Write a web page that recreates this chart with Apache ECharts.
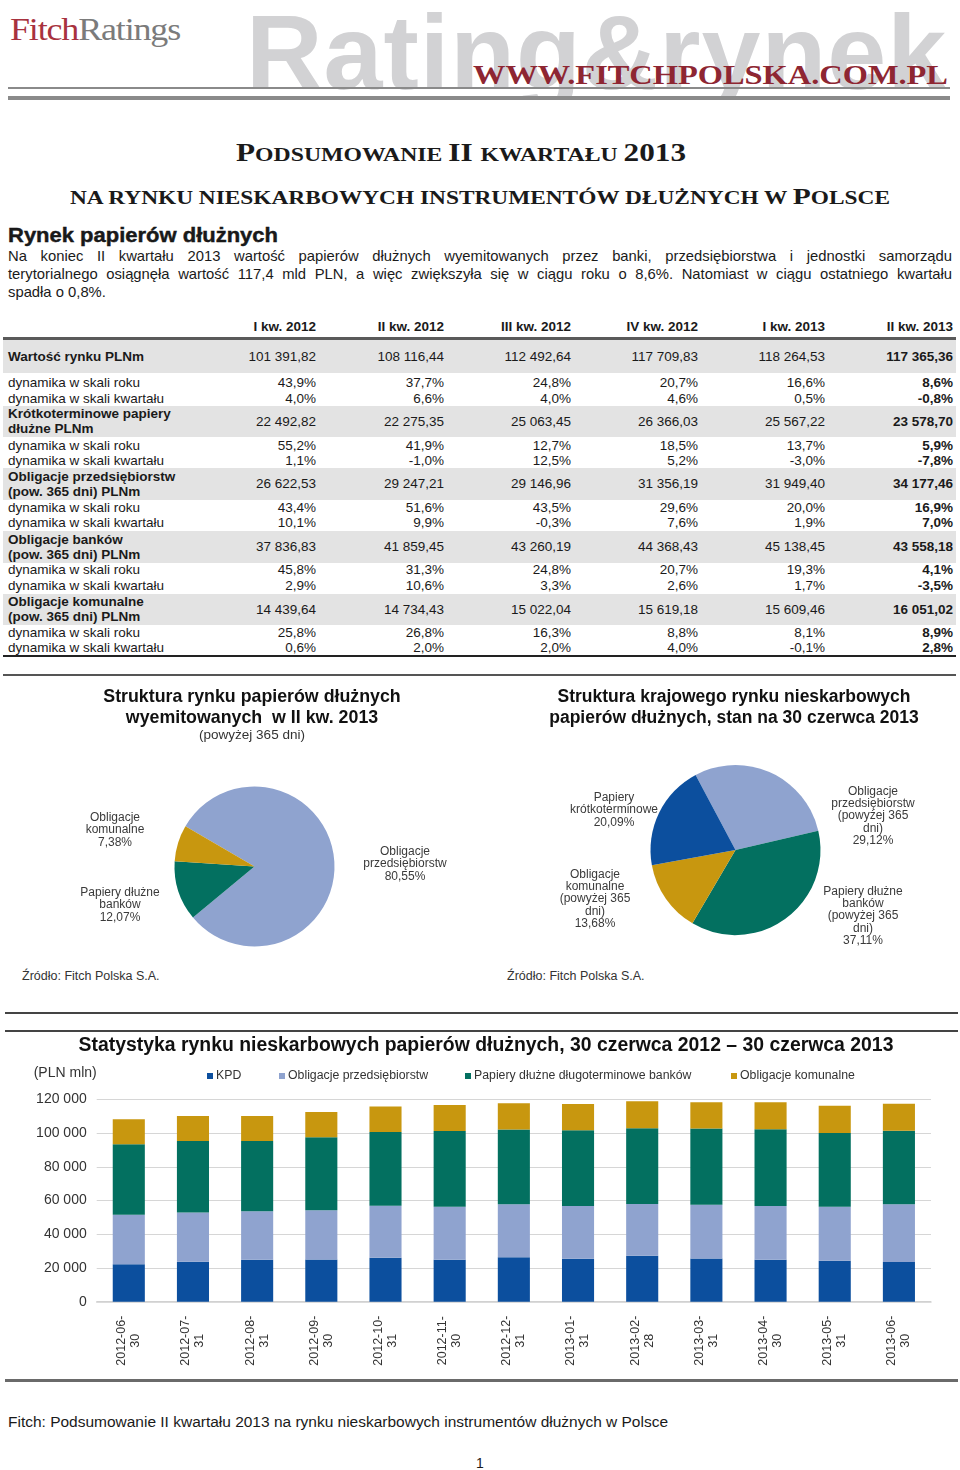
<!DOCTYPE html>
<html><head><meta charset="utf-8">
<script src="https://cdn.jsdelivr.net/npm/echarts@6/dist/echarts.min.js"></script>
<style>
html,body{margin:0;padding:0;background:#fff;}
body{width:960px;height:1470px;position:relative;overflow:hidden;font-family:'Liberation Sans',Arial,sans-serif;color:#1a1a1a;}
.abs{position:absolute;white-space:nowrap;}
.hl{position:absolute;}
.jl{position:absolute;left:8px;width:944px;white-space:nowrap;text-align:justify;text-align-last:justify;font:14.8px 'Liberation Sans',Arial;line-height:18px;}
</style></head>
<body>
<div id="page"></div>
<div id="pies" style="position:absolute;left:0;top:680px;width:960px;height:320px;"></div>
<div id="bars" style="position:absolute;left:0;top:1030px;width:960px;height:350px;"></div>
<script>
// ---------------- DATA ----------------
const colHeads = ['I kw. 2012','II kw. 2012','III kw. 2012','IV kw. 2012','I kw. 2013','II kw. 2013'];
const wartosc = [101391.82, 108116.44, 112492.64, 117709.83, 118264.53, 117365.36];
const wartoscRok = [43.9, 37.7, 24.8, 20.7, 16.6, 8.6];
const wartoscKw = [4.0, 6.6, 4.0, 4.6, 0.5, -0.8];
const krotko = [22492.82, 22275.35, 25063.45, 26366.03, 25567.22, 23578.70];
const krotkoRok = [55.2, 41.9, 12.7, 18.5, 13.7, 5.9];
const krotkoKw = [1.1, -1.0, 12.5, 5.2, -3.0, -7.8];
const przeds = [26622.53, 29247.21, 29146.96, 31356.19, 31949.40, 34177.46];
const przedsRok = [43.4, 51.6, 43.5, 29.6, 20.0, 16.9];
const przedsKw = [10.1, 9.9, -0.3, 7.6, 1.9, 7.0];
const banki = [37836.83, 41859.45, 43260.19, 44368.43, 45138.45, 43558.18];
const bankiRok = [45.8, 31.3, 24.8, 20.7, 19.3, 4.1];
const bankiKw = [2.9, 10.6, 3.3, 2.6, 1.7, -3.5];
const komunalne = [14439.64, 14734.43, 15022.04, 15619.18, 15609.46, 16051.02];
const komunalneRok = [25.8, 26.8, 16.3, 8.8, 8.1, 8.9];
const komunalneKw = [0.6, 2.0, 2.0, 4.0, -0.1, 2.8];

const pie1Names = ['Obligacje\nprzedsiębiorstw', 'Papiery dłużne\nbanków', 'Obligacje\nkomunalne'];
const pie1Values = [80.55, 12.07, 7.38];
const pie2Names = ['Obligacje\nprzedsiębiorstw\n(powyżej 365\ndni)', 'Papiery dłużne\nbanków\n(powyżej 365\ndni)', 'Obligacje\nkomunalne\n(powyżej 365\ndni)', 'Papiery\nkrótkoterminowe'];
const pie2Values = [29.12, 37.11, 13.68, 20.09];

const barDates = ['2012-06-30','2012-07-31','2012-08-31','2012-09-30','2012-10-31','2012-11-30','2012-12-31','2013-01-31','2013-02-28','2013-03-31','2013-04-30','2013-05-31','2013-06-30'];
const barKPD = [22275, 23700, 24900, 25063, 26100, 24900, 26366, 25500, 27280, 25567, 24900, 24300, 23579];
const barPrzeds = [29247, 29250, 28670, 29147, 30840, 31430, 31356, 31240, 30640, 31949, 31830, 32030, 34177];
const barBanki = [41859, 42300, 41710, 43260, 43690, 44880, 44368, 44880, 44880, 45138, 45470, 43690, 43558];
const barKomunalne = [14734, 14830, 14830, 15022, 15030, 15420, 15619, 15620, 16010, 15609, 16010, 16210, 16051];
const barNames = ['KPD', 'Obligacje przedsiębiorstw', 'Papiery dłużne długoterminowe banków', 'Obligacje komunalne'];
const yTicks = [0, 20000, 40000, 60000, 80000, 100000, 120000];

const paraLines = [
  'Na koniec II kwartału 2013 wartość papierów dłużnych wyemitowanych przez banki, przedsiębiorstwa i jednostki samorządu',
  'terytorialnego osiągnęła wartość 117,4 mld PLN, a więc zwiększyła się w ciągu roku o 8,6%. Natomiast w ciągu ostatniego kwartału',
  'spadła o 0,8%.'
];

// ---------------- PAGE (text, table) ----------------
const page = document.getElementById('page');
function add(html, style, cls) {
  const d = document.createElement('div');
  d.className = cls || 'abs';
  d.setAttribute('style', style);
  d.innerHTML = html;
  page.appendChild(d);
  return d;
}
function fit(el, w) {
  const r = el.getBoundingClientRect().width;
  el.style.transformOrigin = 'left top';
  el.style.transform = 'scaleX(' + (w / r) + ')';
}
function fmtNum(n) {
  const s = n.toFixed(2).split('.');
  return s[0].replace(/\B(?=(\d{3})+(?!\d))/g, ' ') + ',' + s[1];
}
function fmtPct(n) { return n.toFixed(1).replace('.', ',') + '%'; }

// header
add('<div style="position:absolute;left:0;top:-8px;font:bold 106px \'Liberation Sans\',Arial;color:#d2d2d4;letter-spacing:1px;">Rating&amp;rynek</div>',
  'left:246px;top:0;width:714px;height:100px;overflow:hidden;');
fit(add('<span style="color:#a8323e">Fitch</span><span style="color:#7b7b7b">Ratings</span>',
  'left:10px;top:13px;font:31px \'Liberation Serif\',serif;letter-spacing:-1px;line-height:34px;'), 170);
fit(add('WWW.FITCHPOLSKA.COM.PL', 'left:473px;top:61px;font:bold 27px \'Liberation Serif\',serif;color:#8e2632;line-height:28px;'), 475);
add('', 'left:8px;top:87px;width:942px;height:2px;background:#8a8a8a;', 'hl');
add('', 'left:8px;top:96px;width:942px;height:4px;background:#8a8a8a;', 'hl');

// titles
const B = s => '<span style="font-size:25px">' + s + '</span>';
const S = s => '<span style="font-size:19px">' + s + '</span>';
fit(add(B('P') + S('ODSUMOWANIE ') + B('II ') + S('KWARTAŁU ') + B('2013'),
  'left:236px;top:138px;font:bold 25px \'Liberation Serif\',serif;line-height:30px;'), 450);
const B2 = s => '<span style="font-size:24px">' + s + '</span>';
const S2 = s => '<span style="font-size:19px">' + s + '</span>';
fit(add(S2('NA RYNKU NIESKARBOWYCH INSTRUMENTÓW DŁUŻNYCH W ') + B2('P') + S2('OLSCE'),
  'left:70px;top:182px;font:bold 24px \'Liberation Serif\',serif;line-height:28px;'), 820);
fit(add('Rynek papierów dłużnych', 'left:8px;top:224px;font:bold 20px \'Liberation Sans\',Arial;line-height:22px;-webkit-text-stroke:0.4px #111;'), 270);
paraLines.forEach((t, i) => {
  const d = add(t, `top:${247 + i * 18}px;`, 'jl');
  if (i === paraLines.length - 1) { d.style.textAlignLast = 'left'; d.style.textAlign = 'left'; }
});

// table
const colRight = [316, 444, 571, 698, 825, 953];
const fs = 'font-size:13.5px;line-height:16px;';
colHeads.forEach((h, i) => add(h, `left:${colRight[i]-120}px;width:120px;text-align:right;top:${327-8}px;font-weight:bold;${fs}`));
add('', 'left:3px;top:337px;width:953px;height:3px;background:#5a5a5a;', 'hl');
const groups = [
  {label:['Wartość rynku PLNm'], vals:wartosc, rok:wartoscRok, kw:wartoscKw},
  {label:['Krótkoterminowe papiery','dłużne PLNm'], vals:krotko, rok:krotkoRok, kw:krotkoKw},
  {label:['Obligacje przedsiębiorstw','(pow. 365 dni) PLNm'], vals:przeds, rok:przedsRok, kw:przedsKw},
  {label:['Obligacje banków','(pow. 365 dni) PLNm'], vals:banki, rok:bankiRok, kw:bankiKw},
  {label:['Obligacje komunalne','(pow. 365 dni) PLNm'], vals:komunalne, rok:komunalneRok, kw:komunalneKw}
];
const bandTop = [340, 406, 468, 531, 594];
const bandH = [33, 31, 32, 32, 31];
const whiteY = [[383, 399], [446, 461], [508, 523], [570, 586], [633, 648]];
groups.forEach((g, gi) => {
  const t = bandTop[gi], h = bandH[gi], mid = t + h / 2;
  add('', `left:3px;top:${t}px;width:953px;height:${h}px;background:#e3e3e3;`, 'hl');
  if (g.label.length === 1) {
    add(g.label[0], `left:8px;top:${mid-8}px;font-weight:bold;${fs}`);
  } else {
    add(g.label[0], `left:8px;top:${mid-7.5-8}px;font-weight:bold;${fs}`);
    add(g.label[1], `left:8px;top:${mid+7.5-8}px;font-weight:bold;${fs}`);
  }
  g.vals.forEach((v, i) => add(fmtNum(v), `left:${colRight[i]-120}px;width:120px;text-align:right;top:${mid-8}px;${i===5?'font-weight:bold;':''}${fs}`));
  const [y1, y2] = whiteY[gi];
  add('dynamika w skali roku', `left:8px;top:${y1-8}px;${fs}`);
  add('dynamika w skali kwartału', `left:8px;top:${y2-8}px;${fs}`);
  g.rok.forEach((v, i) => add(fmtPct(v), `left:${colRight[i]-120}px;width:120px;text-align:right;top:${y1-8}px;${i===5?'font-weight:bold;':''}${fs}`));
  g.kw.forEach((v, i) => add(fmtPct(v), `left:${colRight[i]-120}px;width:120px;text-align:right;top:${y2-8}px;${i===5?'font-weight:bold;':''}${fs}`));
});
add('', 'left:3px;top:655px;width:953px;height:2px;background:#222;', 'hl');
add('', 'left:3px;top:674px;width:953px;height:2px;background:#555;', 'hl');

// source texts
add('Źródło: Fitch Polska S.A.', 'left:22px;top:968px;font:12.5px \'Liberation Sans\',Arial;color:#333;line-height:16px;');
add('Źródło: Fitch Polska S.A.', 'left:507px;top:968px;font:12.5px \'Liberation Sans\',Arial;color:#333;line-height:16px;');
add('', 'left:5px;top:1012px;width:953px;height:2px;background:#444;', 'hl');
add('', 'left:5px;top:1030px;width:953px;height:2px;background:#444;', 'hl');

// footer
add('', 'left:5px;top:1379px;width:953px;height:3px;background:#6a6a6a;', 'hl');
fit(add('Fitch: Podsumowanie II kwartału 2013 na rynku nieskarbowych instrumentów dłużnych w Polsce', 'left:8px;top:1412px;font:15.5px \'Liberation Sans\',Arial;line-height:19px;'), 660);
add('1', 'left:470px;width:20px;text-align:center;top:1455px;font:14px \'Liberation Sans\',Arial;line-height:16px;');

// ---------------- CHARTS ----------------
const C_BLUE = '#0c4f9e', C_LIGHT = '#8fa3cf', C_GREEN = '#037060', C_GOLD = '#c8970f';
const pct = v => v.toFixed(2).replace('.', ',') + '%';

const pieChart = echarts.init(document.getElementById('pies'), null, {renderer: 'canvas'});
const pie1LabelPos = [[405, 184], [120, 225], [115, 150]];
const pie2LabelPos = [[873, 136], [863, 236], [595, 219], [614, 130]];
pieChart.setOption({
  animation: false,
  title: [
    {text: 'Struktura rynku papierów dłużnych\nwyemitowanych  w II kw. 2013', subtext: '(powyżej 365 dni)',
     left: 247, textAlign: 'center', top: 2, itemGap: -2,
     textStyle: {fontFamily: 'Liberation Sans', fontWeight: 'bold', fontSize: 17.8, lineHeight: 21, color: '#111'},
     subtextStyle: {fontFamily: 'Liberation Sans', fontSize: 13.5, color: '#333', lineHeight: 17}},
    {text: 'Struktura krajowego rynku nieskarbowych\npapierów dłużnych, stan na 30 czerwca 2013',
     left: 729, textAlign: 'center', top: 2,
     textStyle: {fontFamily: 'Liberation Sans', fontWeight: 'bold', fontSize: 17.5, lineHeight: 21, color: '#111'}}
  ],
  series: [
    {type: 'pie', center: [254.5, 186.5], radius: 80, startAngle: 149.7, clockwise: true,
     data: pie1Names.map((n, i) => ({name: n, value: pie1Values[i]})),
     color: [C_LIGHT, C_GREEN, C_GOLD],
     label: {show: true, position: 'outside', formatter: p => p.name + '\n' + pct(p.value),
             fontFamily: 'Liberation Sans', fontSize: 12, lineHeight: 12.5, color: '#3a3a3a', align: 'center'},
     labelLine: {show: false},
     labelLayout: p => ({x: pie1LabelPos[p.dataIndex][0], y: pie1LabelPos[p.dataIndex][1], align: 'center', verticalAlign: 'middle'}),
     emphasis: {disabled: true}},
    {type: 'pie', center: [735.5, 170], radius: 85, startAngle: 118, clockwise: true,
     data: pie2Names.map((n, i) => ({name: n, value: pie2Values[i]})),
     color: [C_LIGHT, C_GREEN, C_GOLD, C_BLUE],
     label: {show: true, position: 'outside', formatter: p => p.name + '\n' + pct(p.value),
             fontFamily: 'Liberation Sans', fontSize: 12, lineHeight: 12.3, color: '#3a3a3a', align: 'center'},
     labelLine: {show: false},
     labelLayout: p => ({x: pie2LabelPos[p.dataIndex][0], y: pie2LabelPos[p.dataIndex][1], align: 'center', verticalAlign: 'middle'}),
     emphasis: {disabled: true}}
  ]
});

const barChart = echarts.init(document.getElementById('bars'), null, {renderer: 'canvas'});
const legendLeft = [202, 274, 460, 726];
const barColors = [C_BLUE, C_LIGHT, C_GREEN, C_GOLD];
const barData = [barKPD, barPrzeds, barBanki, barKomunalne];
barChart.setOption({
  animation: false,
  title: {text: 'Statystyka rynku nieskarbowych papierów dłużnych, 30 czerwca 2012 – 30 czerwca 2013',
          left: 481, textAlign: 'center', top: 1,
          textStyle: {fontFamily: 'Liberation Sans', fontWeight: 'bold', fontSize: 19.4, color: '#111'}},
  legend: barNames.map((n, i) => ({
    data: [n], left: legendLeft[i], top: 35, icon: 'rect', itemWidth: 6, itemHeight: 6, itemGap: 0,
    textStyle: {fontFamily: 'Liberation Sans', fontSize: 12.3, color: '#333', padding: [0, 0, 0, -2]}
  })),
  grid: {left: 96.7, right: 29, top: 69.3, bottom: 78.3},
  xAxis: {type: 'category', data: barDates,
          axisLine: {lineStyle: {color: '#d0d0d0', width: 1.5}}, axisTick: {show: false},
          axisLabel: {rotate: 90, align: 'center', margin: 39, fontFamily: 'Liberation Sans', fontSize: 12.5, color: '#333', lineHeight: 14,
                      formatter: v => v.slice(0, 8) + '\n' + v.slice(8)}},
  yAxis: {type: 'value', min: 0, max: 120000, interval: 20000,
          name: '(PLN mln)', nameLocation: 'end', nameGap: 19,
          nameTextStyle: {fontFamily: 'Liberation Sans', fontSize: 14, color: '#333', align: 'right'},
          axisLine: {show: false}, axisTick: {show: false},
          splitLine: {lineStyle: {color: '#d6d6d6', width: 1.2}},
          axisLabel: {margin: 10, fontFamily: 'Liberation Sans', fontSize: 14, color: '#333',
                      formatter: v => yTicks.includes(v) ? String(v).replace(/\B(?=(\d{3})+(?!\d))/g, ' ') : ''}},
  series: barNames.map((n, i) => ({
    name: n, type: 'bar', stack: 'total', barWidth: '50%', data: barData[i],
    itemStyle: {color: barColors[i]}, emphasis: {disabled: true}
  }))
});
</script>
</body></html>
